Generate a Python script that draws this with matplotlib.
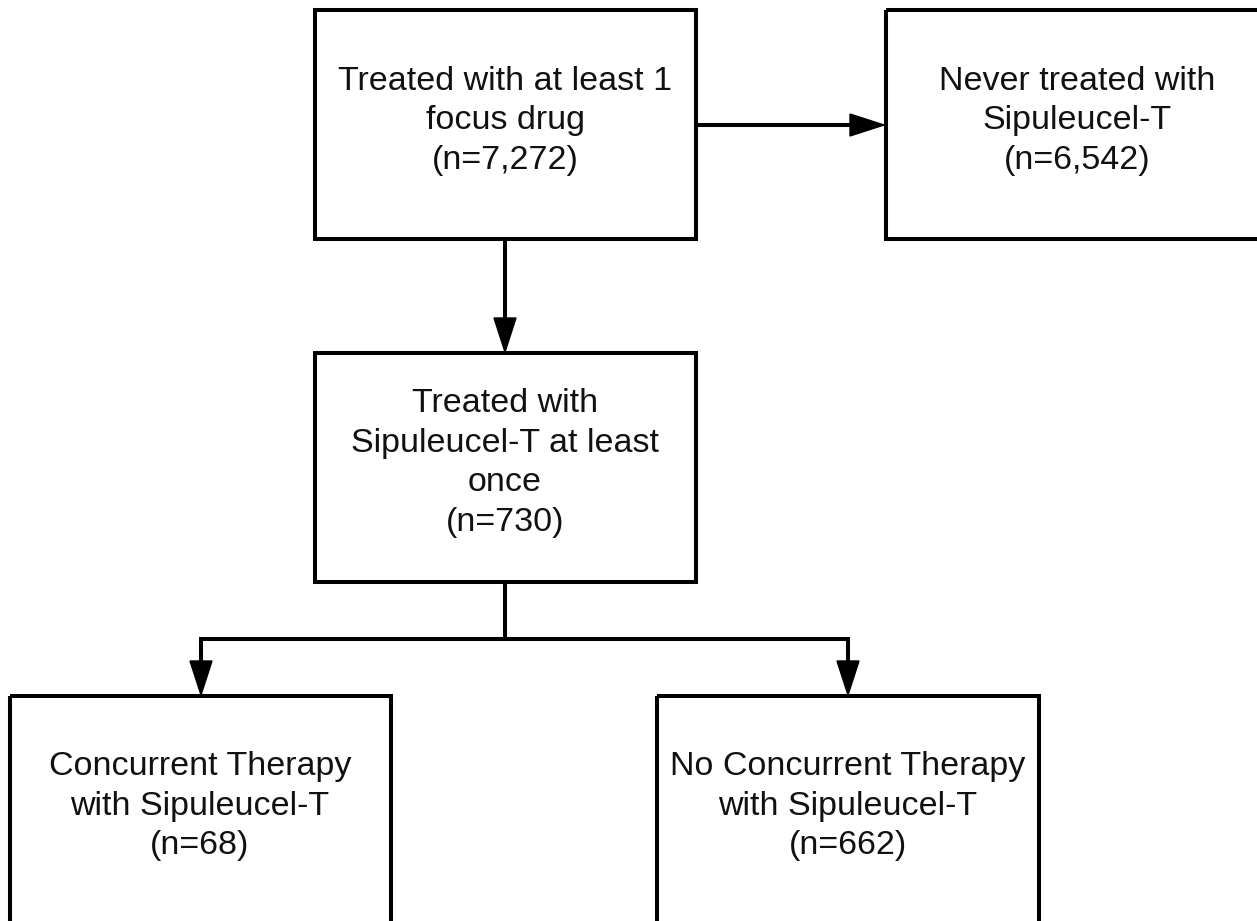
import matplotlib
matplotlib.use("Agg")
import matplotlib.pyplot as plt
from matplotlib.patches import Rectangle, Polygon

plt.rcParams['font.family'] = ['Liberation Sans', 'DejaVu Sans']

# Box labels (data)
labels = [
    "Treated with at least 1\nfocus drug\n(n=7,272)",
    "Never treated with\nSipuleucel-T\n(n=6,542)",
    "Treated with\nSipuleucel-T at least\nonce\n(n=730)",
    "Concurrent Therapy\nwith Sipuleucel-T\n(n=68)",
    "No Concurrent Therapy\nwith Sipuleucel-T\n(n=662)",
]
# Box layout in pixel coords: (x0, y0, x1, y1), text centre (x, y)
boxes = [
    (315, 10, 696, 239),
    (886, 10, 1275, 239),
    (315, 353, 696, 582),
    (10, 696, 391, 960),
    (657, 696, 1039, 960),
]
text_pos = [(505, 121), (1077, 121), (505, 463), (200, 806), (848, 806)]

W, H = 1257, 921
fig = plt.figure(figsize=(W / 100, H / 100), dpi=100)
ax = fig.add_axes([0, 0, 1, 1])
ax.set_xlim(0, W)
ax.set_ylim(H, 0)
ax.axis('off')

LW = 2.9
for (x0, y0, x1, y1), (tx, ty), lab in zip(boxes, text_pos, labels):
    ax.add_patch(Rectangle((x0, y0), x1 - x0, y1 - y0, fill=False,
                           edgecolor='black', lw=LW, joinstyle='miter'))
    ax.text(tx, ty, lab, ha='center', va='center', fontsize=24.5,
            linespacing=1.37, color='#111111')

def line(xs, ys):
    ax.plot(xs, ys, color='black', lw=LW, solid_capstyle='projecting',
            solid_joinstyle='miter')

def head(x, y, direction):
    L, hw = 34, 11
    if direction == 'right':
        pts = [(x, y), (x - L, y - hw), (x - L, y + hw)]
    else:  # down
        pts = [(x, y), (x - hw, y - L), (x + hw, y - L)]
    ax.add_patch(Polygon(pts, closed=True, facecolor='black', edgecolor='black', lw=1))

# connectors
line([697, 860], [125, 125]); head(884, 125, 'right')
line([505, 505], [240, 330]); head(505, 352, 'down')
line([201, 201, 848, 848], [672, 639, 639, 672])
line([505, 505], [583, 639])
head(201, 695, 'down')
head(848, 695, 'down')

fig.savefig('out.png', dpi=100)
